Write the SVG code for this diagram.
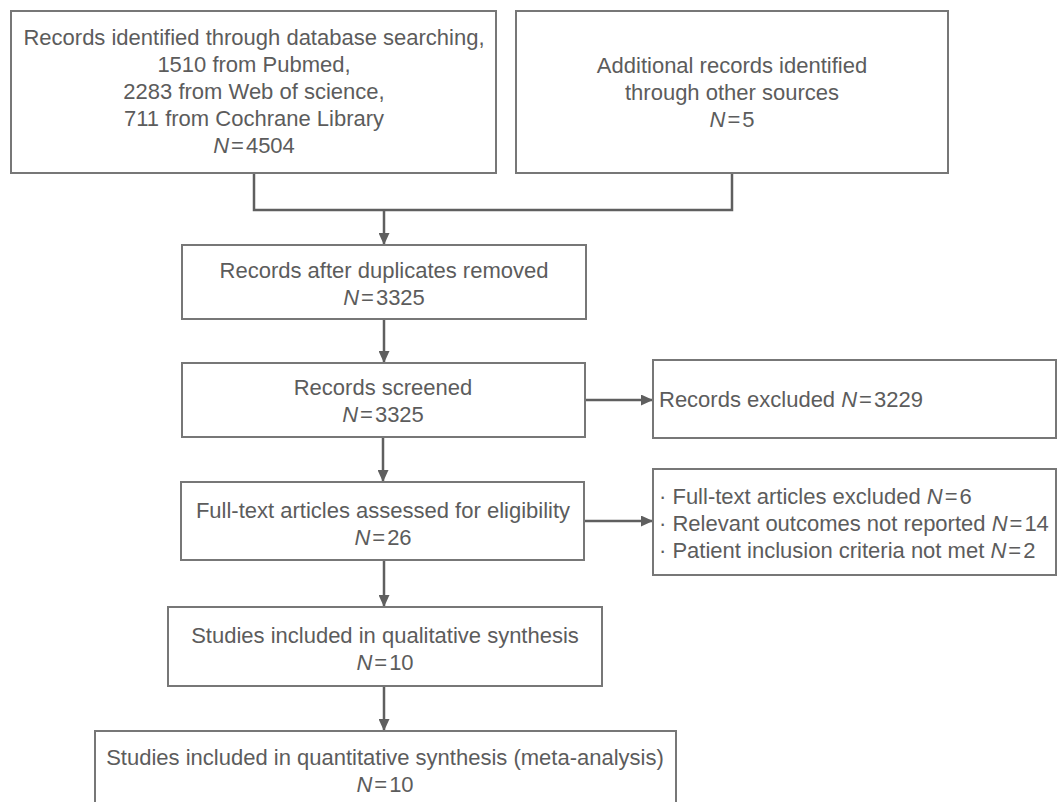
<svg xmlns="http://www.w3.org/2000/svg" width="1058" height="802" viewBox="0 0 1058 802">
<style>
.box{fill:#ffffff;stroke:#777777;stroke-width:2}
.t{font-family:"Liberation Sans",Arial,sans-serif;font-size:22px;fill:#5c5c5c}
.c{text-anchor:middle}
.n{font-style:italic}
.con{fill:none;stroke:#5f5f5f;stroke-width:2.5}
</style>
<defs>
<marker id="ah" markerUnits="userSpaceOnUse" markerWidth="12" markerHeight="11" refX="12" refY="5.5" orient="auto">
<path d="M0,0 L12,5.5 L0,11 z" fill="#5f5f5f"/>
</marker>
</defs>
<rect width="1058" height="802" fill="#ffffff"/>
<g id="connectors">
<path class="con" d="M254,173 V210 H732 V173"/>
<path class="con" d="M384,210 V245" marker-end="url(#ah)"/>
<path class="con" d="M384,319 V363" marker-end="url(#ah)"/>
<path class="con" d="M383,437 V482" marker-end="url(#ah)"/>
<path class="con" d="M384,560 V607" marker-end="url(#ah)"/>
<path class="con" d="M384,686 V731" marker-end="url(#ah)"/>
<path class="con" d="M585,400 H653" marker-end="url(#ah)"/>
<path class="con" d="M584,521 H653" marker-end="url(#ah)"/>
</g>
<g id="db-search">
<rect class="box" x="11" y="11" width="485" height="162"/>
<text class="t c" x="254" y="45">Records identified through database searching,</text>
<text class="t c" x="254" y="72">1510 from Pubmed,</text>
<text class="t c" x="254" y="99">2283 from Web of science,</text>
<text class="t c" x="254" y="126">711 from Cochrane Library</text>
<text class="t c" x="254" y="153"><tspan class="n">N</tspan><tspan dx="2">=</tspan><tspan dx="2">4504</tspan></text>
</g>
<g id="other-sources">
<rect class="box" x="516" y="11" width="432" height="162"/>
<text class="t c" x="732" y="73">Additional records identified</text>
<text class="t c" x="732" y="100">through other sources</text>
<text class="t c" x="732" y="127"><tspan class="n">N</tspan><tspan dx="2">=</tspan><tspan dx="2">5</tspan></text>
</g>
<g id="dedup">
<rect class="box" x="182" y="245" width="404" height="74"/>
<text class="t c" x="384" y="278">Records after duplicates removed</text>
<text class="t c" x="384" y="305"><tspan class="n">N</tspan><tspan dx="2">=</tspan><tspan dx="2">3325</tspan></text>
</g>
<g id="screened">
<rect class="box" x="182" y="363" width="403" height="74"/>
<text class="t c" x="383" y="395">Records screened</text>
<text class="t c" x="383" y="422"><tspan class="n">N</tspan><tspan dx="2">=</tspan><tspan dx="2">3325</tspan></text>
</g>
<g id="excluded">
<rect class="box" x="653" y="360" width="403" height="78"/>
<text class="t" x="659" y="407">Records excluded <tspan class="n">N</tspan><tspan dx="2">=</tspan><tspan dx="2">3229</tspan></text>
</g>
<g id="fulltext">
<rect class="box" x="181" y="482" width="403" height="78"/>
<text class="t c" x="383" y="518">Full-text articles assessed for eligibility</text>
<text class="t c" x="383" y="545"><tspan class="n">N</tspan><tspan dx="2">=</tspan><tspan dx="2">26</tspan></text>
</g>
<g id="fulltext-excluded">
<rect class="box" x="653" y="469" width="403" height="106"/>
<text class="t" x="659" y="504">· Full-text articles excluded <tspan class="n">N</tspan><tspan dx="2">=</tspan><tspan dx="2">6</tspan></text>
<text class="t" x="659" y="531">· Relevant outcomes not reported <tspan class="n">N</tspan><tspan dx="2">=</tspan><tspan dx="2">14</tspan></text>
<text class="t" x="659" y="558">· Patient inclusion criteria not met <tspan class="n">N</tspan><tspan dx="2">=</tspan><tspan dx="2">2</tspan></text>
</g>
<g id="qualitative">
<rect class="box" x="168" y="607" width="434" height="79"/>
<text class="t c" x="385" y="643">Studies included in qualitative synthesis</text>
<text class="t c" x="385" y="670"><tspan class="n">N</tspan><tspan dx="2">=</tspan><tspan dx="2">10</tspan></text>
</g>
<g id="quantitative">
<rect class="box" x="95" y="731" width="581" height="90"/>
<text class="t c" x="385" y="765">Studies included in quantitative synthesis (meta-analysis)</text>
<text class="t c" x="385" y="792"><tspan class="n">N</tspan><tspan dx="2">=</tspan><tspan dx="2">10</tspan></text>
</g>
</svg>
